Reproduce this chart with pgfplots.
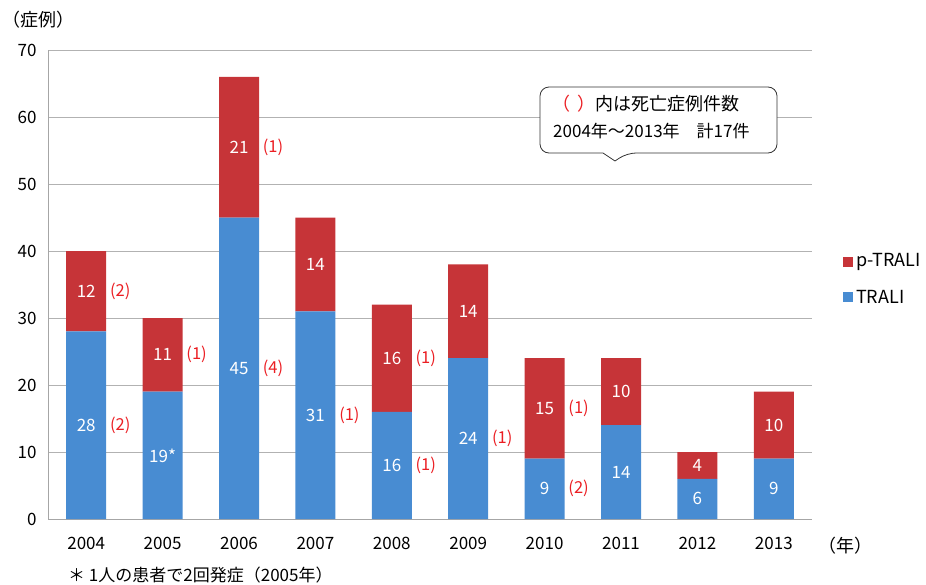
\documentclass[border=0pt]{standalone}
\usepackage{pgfplots}
\pgfplotsset{compat=1.18}
\usepackage{fontspec}
\setmainfont{Noto Sans CJK JP}
\definecolor{bluemid}{RGB}{72,140,210}
\definecolor{redmid}{RGB}{198,52,56}
\definecolor{annred}{RGB}{235,30,35}
\tikzset{wl/.style={text=white, font=\fontsize{17pt}{20pt}\selectfont},
         rl/.style={text=annred, font=\fontsize{16.5pt}{20pt}\selectfont, xshift=34pt}}
\begin{document}
\begin{tikzpicture}
\useasboundingbox (0pt,0pt) rectangle (926pt,-584pt);
\begin{axis}[
  at={(48pt,-519pt)}, anchor=south west,
  scale only axis, width=764pt, height=469pt,
  xmin=-0.5, xmax=9.5, ymin=0, ymax=70,
  ybar stacked, bar width=40pt,
  xtick={0,1,2,3,4,5,6,7,8,9},
  xticklabels={2004,2005,2006,2007,2008,2009,2010,2011,2012,2013},
  ytick={0,10,20,30,40,50,60,70},
  ymajorgrids, grid style={gray!60, line width=0.7pt},
  axis x line*=bottom, axis y line*=left,
  axis line style={gray!70, line width=0.7pt},
  major tick length=0pt,
  tick label style={font=\fontsize{17pt}{20pt}\selectfont},
  yticklabel style={xshift=-8pt},
  xticklabel style={yshift=-15pt},
  /pgf/number format/assume math mode=true,
  clip=false,
]
\addplot[draw=none, fill=bluemid]
  coordinates {(0,28) (1,19) (2,45) (3,31) (4,16) (5,24) (6,9) (7,14) (8,6) (9,9)};
\addplot[draw=none, fill=redmid]
  coordinates {(0,12) (1,11) (2,21) (3,14) (4,16) (5,14) (6,15) (7,10) (8,4) (9,10)};
\coordinate (b0) at (axis cs:0,14);
\coordinate (r0) at (axis cs:0,34);
\coordinate (b1) at (axis cs:1,9.5);
\coordinate (r1) at (axis cs:1,24.5);
\coordinate (b2) at (axis cs:2,22.5);
\coordinate (r2) at (axis cs:2,55.5);
\coordinate (b3) at (axis cs:3,15.5);
\coordinate (r3) at (axis cs:3,38);
\coordinate (b4) at (axis cs:4,8);
\coordinate (r4) at (axis cs:4,24);
\coordinate (b5) at (axis cs:5,12);
\coordinate (r5) at (axis cs:5,31);
\coordinate (b6) at (axis cs:6,4.5);
\coordinate (r6) at (axis cs:6,16.5);
\coordinate (b7) at (axis cs:7,7);
\coordinate (r7) at (axis cs:7,19);
\coordinate (b8) at (axis cs:8,3);
\coordinate (r8) at (axis cs:8,8);
\coordinate (b9) at (axis cs:9,4.5);
\coordinate (r9) at (axis cs:9,14);
\end{axis}
% values inside bars
\node[wl] at (b0) {28};
\node[wl] at (r0) {12};
\node[wl] at (b1) {19*};
\node[wl] at (r1) {11};
\node[wl] at (b2) {45};
\node[wl] at (r2) {21};
\node[wl] at (b3) {31};
\node[wl] at (r3) {14};
\node[wl] at (b4) {16};
\node[wl] at (r4) {16};
\node[wl] at (b5) {24};
\node[wl] at (r5) {14};
\node[wl] at (b6) {9};
\node[wl] at (r6) {15};
\node[wl] at (b7) {14};
\node[wl] at (r7) {10};
\node[wl] at (b8) {6};
\node[wl] at (r8) {4};
\node[wl] at (b9) {9};
\node[wl] at (r9) {10};
% deaths
\node[rl] at (b0) {(2)};
\node[rl] at (r0) {(2)};
\node[rl] at (r1) {(1)};
\node[rl] at (b2) {(4)};
\node[rl] at (r2) {(1)};
\node[rl] at (b3) {(1)};
\node[rl] at (b4) {(1)};
\node[rl] at (r4) {(1)};
\node[rl] at (b5) {(1)};
\node[rl] at (b6) {(2)};
\node[rl] at (r6) {(1)};
% legend
\fill[redmid] (843pt,-257pt) rectangle (853pt,-267pt);
\node[anchor=west, inner sep=0pt, font=\fontsize{18pt}{21pt}\selectfont] at (856pt,-262pt) {p-TRALI};
\fill[bluemid] (843pt,-292pt) rectangle (853pt,-302pt);
\node[anchor=west, inner sep=0pt, font=\fontsize{18pt}{21pt}\selectfont] at (856pt,-297pt) {TRALI};
% callout
\draw[black!80, line width=0.8pt, fill=white, rounded corners=9pt]
  (540pt,-87pt) -- (777pt,-87pt) -- (777pt,-153pt) -- (627pt,-153pt) [sharp corners] -- (615pt,-161pt) -- (603pt,-153pt) [rounded corners=9pt] -- (540pt,-153pt) -- cycle;
\node[anchor=west, inner sep=0pt, font=\fontsize{18pt}{21pt}\selectfont] at (552pt,-104pt) {\textcolor{annred}{（\hspace{0.4em}）}内は死亡症例件数};
\node[anchor=west, inner sep=0pt, font=\fontsize{17pt}{20pt}\selectfont] at (553pt,-131pt) {2004年～2013年　計17件};
% axis unit labels and note
\node[anchor=west, inner sep=0pt, font=\fontsize{18pt}{21pt}\selectfont] at (2pt,-20pt) {（症例）};
\node[anchor=west, inner sep=0pt, font=\fontsize{18pt}{21pt}\selectfont] at (818pt,-546pt) {（年）};
\node[anchor=west, inner sep=0pt, font=\fontsize{17pt}{20pt}\selectfont] at (68pt,-575pt) {＊ 1人の患者で2回発症（2005年）};
\end{tikzpicture}
\end{document}
